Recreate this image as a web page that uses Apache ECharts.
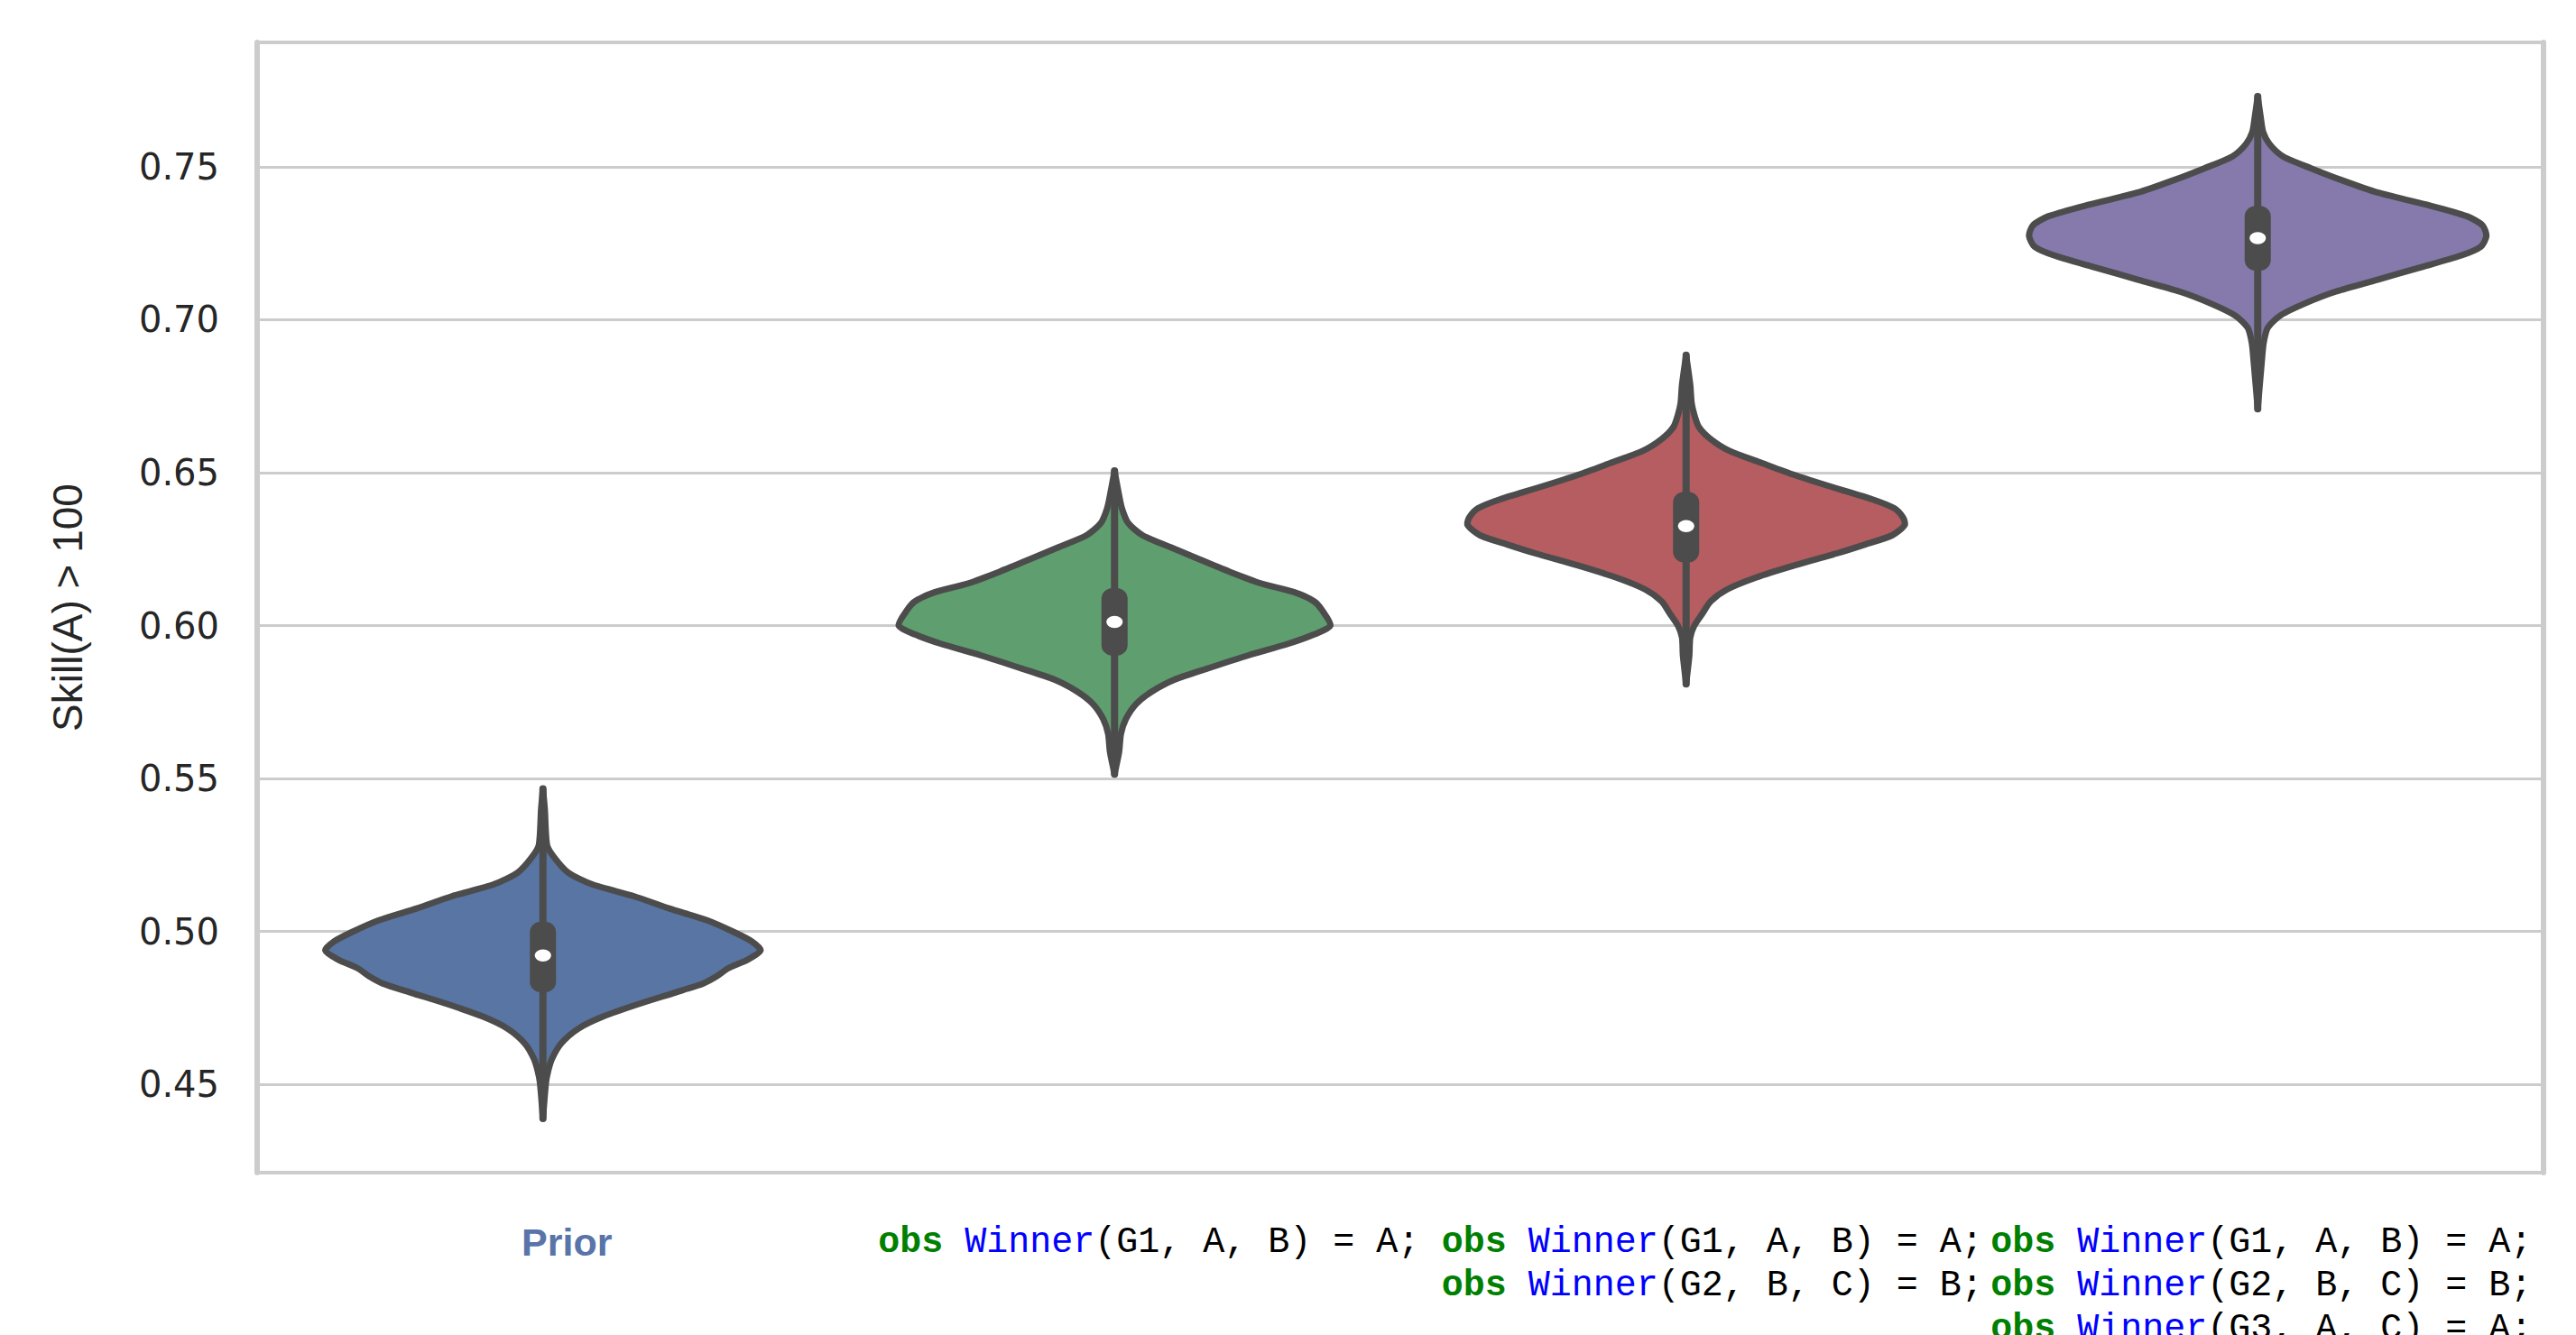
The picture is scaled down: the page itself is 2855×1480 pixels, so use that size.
<!DOCTYPE html>
<html>
<head>
<meta charset="utf-8">
<script src="https://cdn.jsdelivr.net/npm/echarts@6/dist/echarts.min.js"></script>
<style>
  html, body { margin: 0; padding: 0; background: #ffffff; }
  #chart { width: 2855px; height: 1480px; }
</style>
</head>
<body>
<div id="chart"></div>
<script>
// Posterior of Skill(A) > 100 under the prior and after each set of observations
const categories = [
  'Prior',
  'obs Winner(G1, A, B) = A;',
  'obs Winner(G1, A, B) = A;\nobs Winner(G2, B, C) = B;',
  'obs Winner(G1, A, B) = A;\nobs Winner(G2, B, C) = B;\nobs Winner(G3, A, C) = A;'
];

const yTicks = [0.45, 0.50, 0.55, 0.60, 0.65, 0.70, 0.75];
const yMin = 0.4211;
const yMax = 0.7907;

// Density profiles: [value, relative density] (widest violin = 1)
const priorDensity = [
  [0.5466, 0], [0.5400, 0.008], [0.5282, 0.018], [0.5243, 0.048], [0.5193, 0.109],
  [0.5154, 0.214], [0.5115, 0.397], [0.5075, 0.552], [0.5036, 0.718], [0.4997, 0.837],
  [0.4967, 0.913], [0.4938, 0.952], [0.4908, 0.897], [0.4879, 0.810], [0.4854, 0.762],
  [0.4830, 0.702], [0.4800, 0.579], [0.4761, 0.413], [0.4721, 0.262], [0.4682, 0.155],
  [0.4633, 0.079], [0.4584, 0.040], [0.4544, 0.023], [0.4505, 0.013], [0.4388, 0]
];
const g1Density = [
  [0.6506, 0], [0.6433, 0.018], [0.6384, 0.032], [0.6335, 0.060], [0.6295, 0.123],
  [0.6256, 0.246], [0.6216, 0.373], [0.6177, 0.500], [0.6138, 0.640], [0.6108, 0.790],
  [0.6079, 0.873], [0.6049, 0.909], [0.6000, 0.944], [0.5971, 0.873], [0.5941, 0.762],
  [0.5902, 0.583], [0.5862, 0.417], [0.5823, 0.262], [0.5784, 0.163], [0.5744, 0.095],
  [0.5695, 0.050], [0.5646, 0.028], [0.5587, 0.020], [0.5514, 0]
];
const g2Density = [
  [0.6884, 0], [0.6787, 0.018], [0.6728, 0.024], [0.6689, 0.036], [0.6649, 0.056],
  [0.6610, 0.107], [0.6571, 0.190], [0.6531, 0.333], [0.6492, 0.476], [0.6452, 0.643],
  [0.6413, 0.813], [0.6384, 0.909], [0.6354, 0.948], [0.6329, 0.956], [0.6295, 0.901],
  [0.6266, 0.786], [0.6236, 0.659], [0.6197, 0.476], [0.6157, 0.306], [0.6118, 0.179],
  [0.6079, 0.107], [0.6039, 0.071], [0.6000, 0.036], [0.5961, 0.018], [0.5902, 0.014],
  [0.5809, 0]
];
const g3Density = [
  [0.7730, 0], [0.7662, 0.013], [0.7613, 0.024], [0.7574, 0.052], [0.7534, 0.111],
  [0.7495, 0.234], [0.7456, 0.369], [0.7416, 0.524], [0.7377, 0.734], [0.7338, 0.917],
  [0.7308, 0.984], [0.7274, 1.000], [0.7239, 0.976], [0.7210, 0.889], [0.7170, 0.706],
  [0.7131, 0.524], [0.7092, 0.341], [0.7052, 0.202], [0.7013, 0.097], [0.6974, 0.044],
  [0.6925, 0.026], [0.6866, 0.018], [0.6709, 0]
];

// Box statistics per category
const medians     = [0.4921, 0.6012, 0.6325, 0.7267];
const quartile1   = [0.4833, 0.5934, 0.6239, 0.7193];
const quartile3   = [0.4999, 0.6090, 0.6405, 0.7340];
const whiskerLow  = [0.4388, 0.5514, 0.5809, 0.6709];
const whiskerHigh = [0.5466, 0.6506, 0.6884, 0.7730];

const densities = [priorDensity, g1Density, g2Density, g3Density];
const fills = ['#5975a4', '#5f9e6e', '#b55d60', '#857aab'];
const edge = '#4c4c4c';
const HALF_WIDTH = 0.4;   // half of the category band used by the widest violin

function renderViolin(params, api) {
  const i = api.value(0);
  const band = api.size([1, 0])[0];
  const half = band * HALF_WIDTH;
  const right = [];
  const left = [];
  densities[i].forEach(function (d) {
    const p = api.coord([i, d[0]]);
    right.push([p[0] + d[1] * half, p[1]]);
    left.push([p[0] - d[1] * half, p[1]]);
  });
  const outline = right.concat(left.reverse());
  const cx = api.coord([i, medians[i]])[0];
  const yMed = api.coord([i, medians[i]])[1];
  const yQ1 = api.coord([i, quartile1[i]])[1];
  const yQ3 = api.coord([i, quartile3[i]])[1];
  const yLo = api.coord([i, whiskerLow[i]])[1];
  const yHi = api.coord([i, whiskerHigh[i]])[1];
  const boxW = 29;
  const capH = 11;
  return {
    type: 'group',
    children: [
      {
        type: 'polygon',
        shape: { points: outline, smooth: 0.25 },
        style: { fill: fills[i], stroke: edge, lineWidth: 7, lineJoin: 'round' }
      },
      {
        type: 'line',
        shape: { x1: cx, y1: yHi, x2: cx, y2: yLo },
        style: { stroke: edge, lineWidth: 8, lineCap: 'round' }
      },
      {
        type: 'rect',
        shape: { x: cx - boxW / 2, y: yQ3 - capH, width: boxW, height: (yQ1 - yQ3) + 2 * capH, r: 12 },
        style: { fill: edge }
      },
      {
        type: 'ellipse',
        shape: { cx: cx, cy: yMed, rx: 9, ry: 6.7 },
        style: { fill: '#ffffff' }
      }
    ]
  };
}

// Syntax-coloured tick labels for the observation sets
const labelPadding = [53, 76, 58, 8];
function formatLabel(value, index) {
  if (index === 0) return '{prior|' + value + '}';
  return value.split('\n').map(function (line) {
    const m = line.match(/^(obs) (Winner)(.*)$/);
    return '{kw' + index + '|' + m[1] + '}{tx| }{fn|' + m[2] + '}{tx|' + m[3] + '}';
  }).join('\n');
}

const mono = "'Courier New', 'Liberation Mono', monospace";
const rich = {
  prior: {
    fontFamily: "'Liberation Sans Narrow', 'Liberation Sans', sans-serif",
    fontWeight: 'bold', fontSize: 43, color: '#5874a8', lineHeight: 48,
    padding: [0, 0, 0, labelPadding[0]]
  },
  fn: { fontFamily: mono, fontSize: 40, color: '#0000ff', lineHeight: 48 },
  tx: { fontFamily: mono, fontSize: 40, color: '#000000', lineHeight: 48 }
};
[1, 2, 3].forEach(function (k) {
  rich['kw' + k] = {
    fontFamily: mono, fontSize: 40, fontWeight: 'bold', color: '#008000', lineHeight: 48,
    padding: [0, 0, 0, labelPadding[k]]
  };
});

const chart = echarts.init(document.getElementById('chart'), null, { renderer: 'svg' });
chart.setOption({
  animation: false,
  backgroundColor: '#ffffff',
  grid: {
    left: 285, right: 36, top: 47, bottom: 180,
    show: true, borderColor: '#cccccc', borderWidth: 4,
    outerBoundsMode: 'none'
  },
  xAxis: {
    type: 'category',
    data: categories,
    boundaryGap: true,
    axisLine: { show: false },
    axisTick: { show: false },
    splitLine: { show: false },
    axisLabel: {
      interval: 0,
      margin: 53,
      formatter: formatLabel,
      rich: rich
    }
  },
  yAxis: [
    {
      type: 'value',
      min: yMin,
      max: yMax,
      name: 'Skill(A) > 100',
      nameLocation: 'middle',
      nameGap: 187,
      nameTextStyle: {
        fontFamily: "'Liberation Sans', Arial, sans-serif",
        fontSize: 46, color: '#262626'
      },
      axisLine: { show: true, lineStyle: { color: '#cccccc', width: 6 } },
      axisTick: { show: false, customValues: yTicks },
      axisLabel: {
        customValues: yTicks,
        margin: 42,
        fontFamily: "'DejaVu Sans', sans-serif",
        fontSize: 40,
        color: '#262626',
        formatter: function (v) { return v.toFixed(2); }
      },
      splitLine: { show: true, lineStyle: { color: '#cccccc', width: 3 } }
    },
    {
      type: 'value',
      position: 'right',
      min: yMin,
      max: yMax,
      axisLine: { show: true, lineStyle: { color: '#cccccc', width: 6 } },
      axisTick: { show: false },
      axisLabel: { show: false },
      splitLine: { show: false }
    }
  ],
  series: [{
    type: 'custom',
    renderItem: renderViolin,
    clip: false,
    encode: { x: 0, y: 1 },
    data: medians.map(function (m, i) { return [i, m]; })
  }]
});
</script>
</body>
</html>
